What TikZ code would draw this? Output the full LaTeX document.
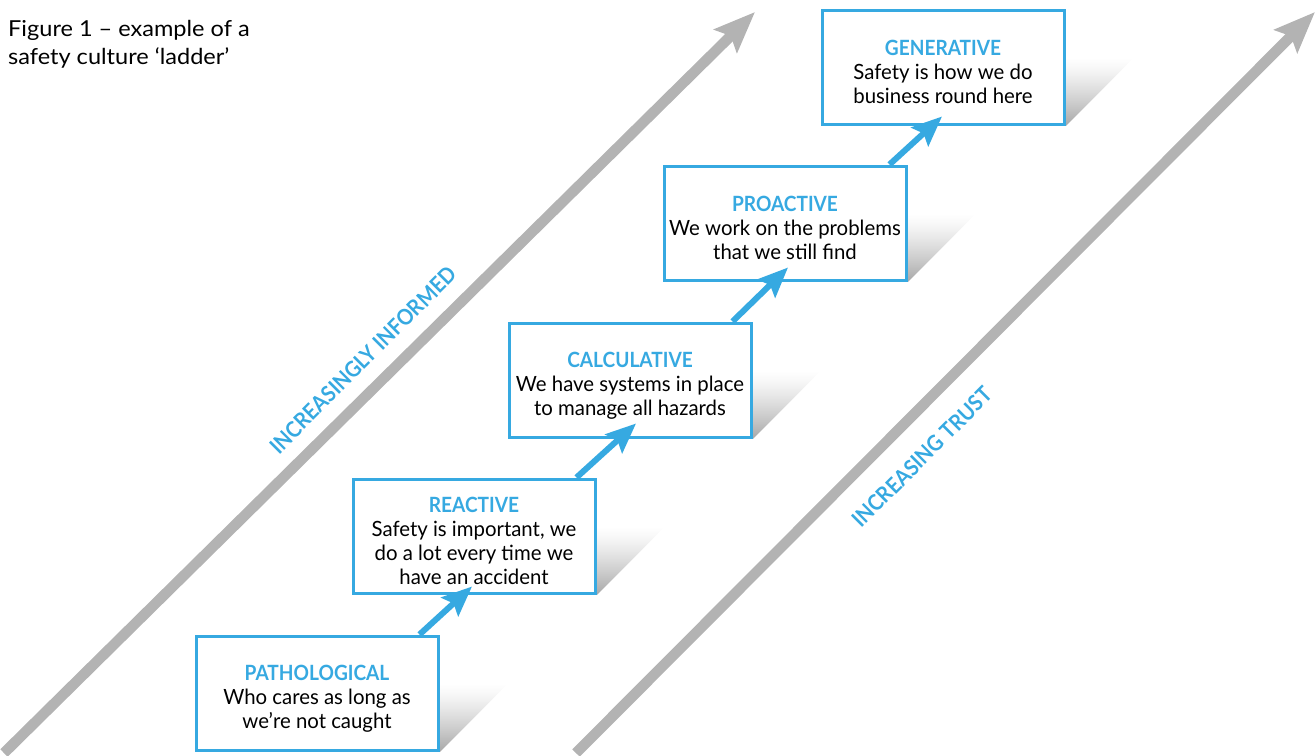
\documentclass[tikz,border=0pt]{standalone}
\usepackage{fontspec}
\setmainfont{Lato}
\newfontfamily\titlefont[FakeStretch=1.07]{Lato}
\newfontfamily\boxfont[FakeStretch=0.97]{Lato}
\newfontfamily\boxbold[FakeStretch=0.91]{Lato}
\usetikzlibrary{arrows.meta,calc,backgrounds}
\definecolor{skyblue}{HTML}{36A9E1}
\definecolor{arrowgray}{HTML}{B3B3B3}
\definecolor{shadowgray}{HTML}{A8A8A8}
\begin{document}
\begin{tikzpicture}[x=1pt,y=-1pt,
  stage/.style={draw=skyblue, line width=3pt, fill=white, minimum width=242pt,
    minimum height=114pt, inner sep=0pt, align=center,
    font=\boxfont\fontsize{21}{24}\selectfont},
  climb/.style={draw=skyblue, line width=6pt,
    -{Stealth[length=30pt,width=25pt,inset=5pt]}},
  bigarrow/.style={draw=arrowgray, line width=10.5pt,
    -{Stealth[length=41pt,width=32pt,inset=7pt]}},
  axislabel/.style={rotate=45, text=skyblue, inner sep=0pt,
    font=\boxbold\bfseries\fontsize{22}{24}\selectfont},
]
\useasboundingbox (0,0) rectangle (1316,755);
\clip (0,0) rectangle (1316,755);

\newcommand{\stg}[1]{\rule{0pt}{26pt}{\color{skyblue}\boxbold\bfseries #1}}

\node[anchor=base west, align=left, inner sep=0pt,
  font=\titlefont\fontsize{22}{28}\selectfont] (title) at (8,64)
  {Figure 1 – example of a\\safety culture ‘ladder’};

\node[stage] (p1) at (317,693) {\stg{PATHOLOGICAL}\\Who cares as long as\\we’re not caught};
\node[stage] (p2) at (474,536) {\stg{REACTIVE}\\Safety is important, we\\do a lot every time we\\have an accident};
\node[stage] (p3) at (630,380) {\stg{CALCULATIVE}\\We have systems in place\\to manage all hazards};
\node[stage] (p4) at (785,223) {\stg{PROACTIVE}\\We work on the problems\\that we still find};
\node[stage] (p5) at (943,67) {\stg{GENERATIVE}\\Safety is how we do\\business round here};

\node[axislabel] (informed) at (363,360) {INCREASINGLY INFORMED};
\node[axislabel] (trust) at (922,457) {INCREASING TRUST};

\coordinate (g1s) at (4,753);
\coordinate (g1e) at (755,12);
\coordinate (g2s) at (576,753);
\coordinate (g2e) at (1315,12);

\begin{scope}[on background layer]
  \foreach \p in {p1,p2,p3,p4,p5}{
    \foreach \t in {68,67,...,1}{
      \pgfmathsetmacro\pc{100*(1-\t/68)^1.3}
      \fill[shadowgray!\pc!white] (\p.south east) -- ++(0,-\t) -- ++(\t,0) -- cycle;
    }
  }
  \draw[bigarrow] (g1s) -- (g1e);
  \draw[bigarrow] (g2s) -- (g2e);
\end{scope}

\draw[climb] ([xshift=-20pt]p1.north east) -- ([xshift=-2pt,yshift=8pt]p2.south);
\draw[climb] ([xshift=-20pt]p2.north east) -- ([xshift=6pt,yshift=15pt]p3.south);
\draw[climb] ([xshift=-20pt]p3.north east) -- ([xshift=3pt,yshift=14pt]p4.south);
\draw[climb] ([xshift=-18pt]p4.north east) -- ([xshift=-1pt,yshift=9pt]p5.south);
\end{tikzpicture}
\end{document}
